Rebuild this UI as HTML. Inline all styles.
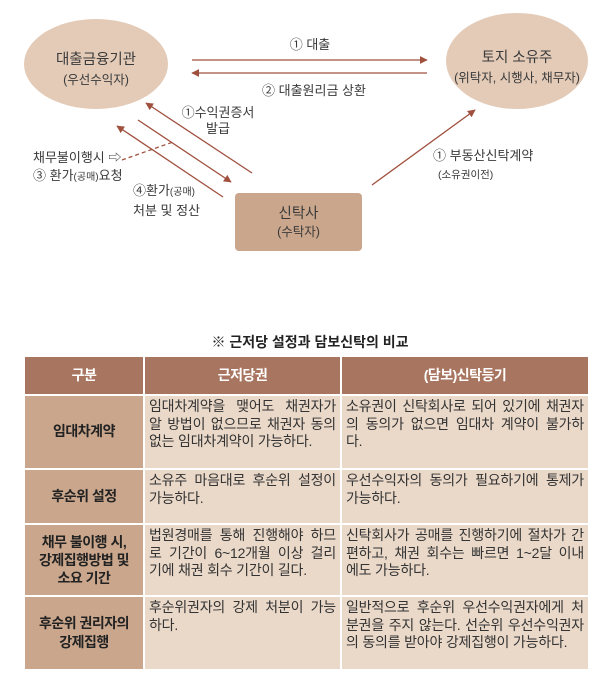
<!DOCTYPE html>
<html><head><meta charset="utf-8"><style>
body{margin:0;width:600px;height:681px;background:#fff;font-family:"Liberation Sans","Noto Sans CJK KR",sans-serif;color:#3a3a3a;position:relative;overflow:hidden}
.t{position:absolute;white-space:nowrap;font-size:13px;line-height:16px}
.c{text-align:center}
table{position:absolute;left:25px;top:357px;border-collapse:separate;border-spacing:2px;margin:-2px;}
td{padding:2px 4px;font-size:14px;line-height:17.5px;letter-spacing:-0.2px;vertical-align:top;background:#ead9c9;color:#333}
td div{white-space:nowrap}
td.h{background:#a87660;color:#fff;text-align:center;vertical-align:middle;font-weight:bold;letter-spacing:-0.5px}
td.k{background:#c9a68c;font-weight:bold;text-align:center;vertical-align:middle;color:#222;letter-spacing:-0.5px}
.j{text-align:justify;text-align-last:justify}
</style></head><body>
<svg width="600" height="300" style="position:absolute;left:0;top:0">
<defs><marker id="a" viewBox="0 0 10 10" refX="9" refY="5" markerWidth="6" markerHeight="6" orient="auto"><path d="M0,0L10,5L0,10z" fill="#a0503e"/></marker></defs>
<ellipse cx="96" cy="64" rx="72" ry="45" fill="#e3cbb8"/>
<ellipse cx="517" cy="61" rx="71" ry="48" fill="#e3cbb8"/>
<rect x="235" y="193" width="127" height="58" rx="4" fill="#c9a68c"/>
<g stroke="#a0503e" stroke-width="1.3" fill="none">
<line x1="192" y1="60" x2="427" y2="60" marker-end="url(#a)"/>
<line x1="427" y1="73" x2="192" y2="73" marker-end="url(#a)"/>
<line x1="252" y1="173" x2="146" y2="103" marker-end="url(#a)"/>
<line x1="138" y1="120" x2="231" y2="182" marker-end="url(#a)"/>
<line x1="223" y1="197" x2="117" y2="126" marker-end="url(#a)"/>
<line x1="372" y1="185" x2="475" y2="110" marker-end="url(#a)"/>
<line x1="122" y1="160" x2="173" y2="142" stroke-dasharray="4,3"/>
</g></svg>
<div class="t c" style="left:26px;width:140px;top:50px;font-size:14.5px;line-height:20px">대출금융기관<br><span style="font-size:12.5px">(우선수익자)</span></div>
<div class="t c" style="left:446px;width:142px;top:48px;font-size:14.5px;line-height:20px">토지 소유주<br><span style="font-size:12.5px">(위탁자, 시행사, 채무자)</span></div>
<div class="t c" style="left:235px;width:127px;top:205px;font-size:14.5px;line-height:18px">신탁사<br><span style="font-size:12.5px">(수탁자)</span></div>
<div class="t c" style="left:260px;width:100px;top:37px">① 대출</div>
<div class="t" style="left:262px;top:83px">② 대출원리금 상환</div>
<div class="t c" style="left:176px;width:84px;top:105px">①수익권증서<br>발급</div>
<div class="t" style="left:33px;top:149px;line-height:18px">채무불이행시 ⇨<br>③ 환가<span style="font-size:10px">(공매)</span>요청</div>
<div class="t" style="left:133px;top:182px;line-height:18px">④환가<span style="font-size:10px">(공매)</span><br>처분 및 정산</div>
<div class="t" style="left:433px;top:147px;line-height:18px">① 부동산신탁계약<br><span style="font-size:10.5px;padding-left:5px">(소유권이전)</span></div>
<div class="t c" style="left:0;width:620px;top:334px;font-size:14px;font-weight:bold;color:#222">※ 근저당 설정과 담보신탁의 비교</div>
<table>
<tr style="height:37px"><td class="h" style="width:110px">구분</td><td class="h" style="width:187px">근저당권</td><td class="h" style="width:238px">(담보)신탁등기</td></tr>
<tr style="height:72px"><td class="k">임대차계약</td><td><div class="j">임대차계약을 맺어도 채권자가</div><div class="j">알 방법이 없으므로 채권자 동의</div><div>없는 임대차계약이 가능하다.</div></td><td><div class="j">소유권이 신탁회사로 되어 있기에 채권자</div><div class="j">의 동의가 없으면 임대차 계약이 불가하</div><div>다.</div></td></tr>
<tr style="height:53px"><td class="k">후순위 설정</td><td><div class="j">소유주 마음대로 후순위 설정이</div><div>가능하다.</div></td><td><div class="j">우선수익자의 동의가 필요하기에 통제가</div><div>가능하다.</div></td></tr>
<tr style="height:70px"><td class="k" style="line-height:18px">채무 불이행 시,<br>강제집행방법 및<br>소요 기간</td><td><div class="j">법원경매를 통해 진행해야 하므</div><div class="j">로 기간이 6~12개월 이상 걸리</div><div>기에 채권 회수 기간이 길다.</div></td><td><div class="j">신탁회사가 공매를 진행하기에 절차가 간</div><div class="j">편하고, 채권 회수는 빠르면 1~2달 이내</div><div>에도 가능하다.</div></td></tr>
<tr style="height:72px"><td class="k" style="line-height:19px">후순위 권리자의<br>강제집행</td><td><div class="j">후순위권자의 강제 처분이 가능</div><div>하다.</div></td><td><div class="j">일반적으로 후순위 우선수익권자에게 처</div><div class="j">분권을 주지 않는다. 선순위 우선수익권자</div><div>의 동의를 받아야 강제집행이 가능하다.</div></td></tr>
</table>
</body></html>
